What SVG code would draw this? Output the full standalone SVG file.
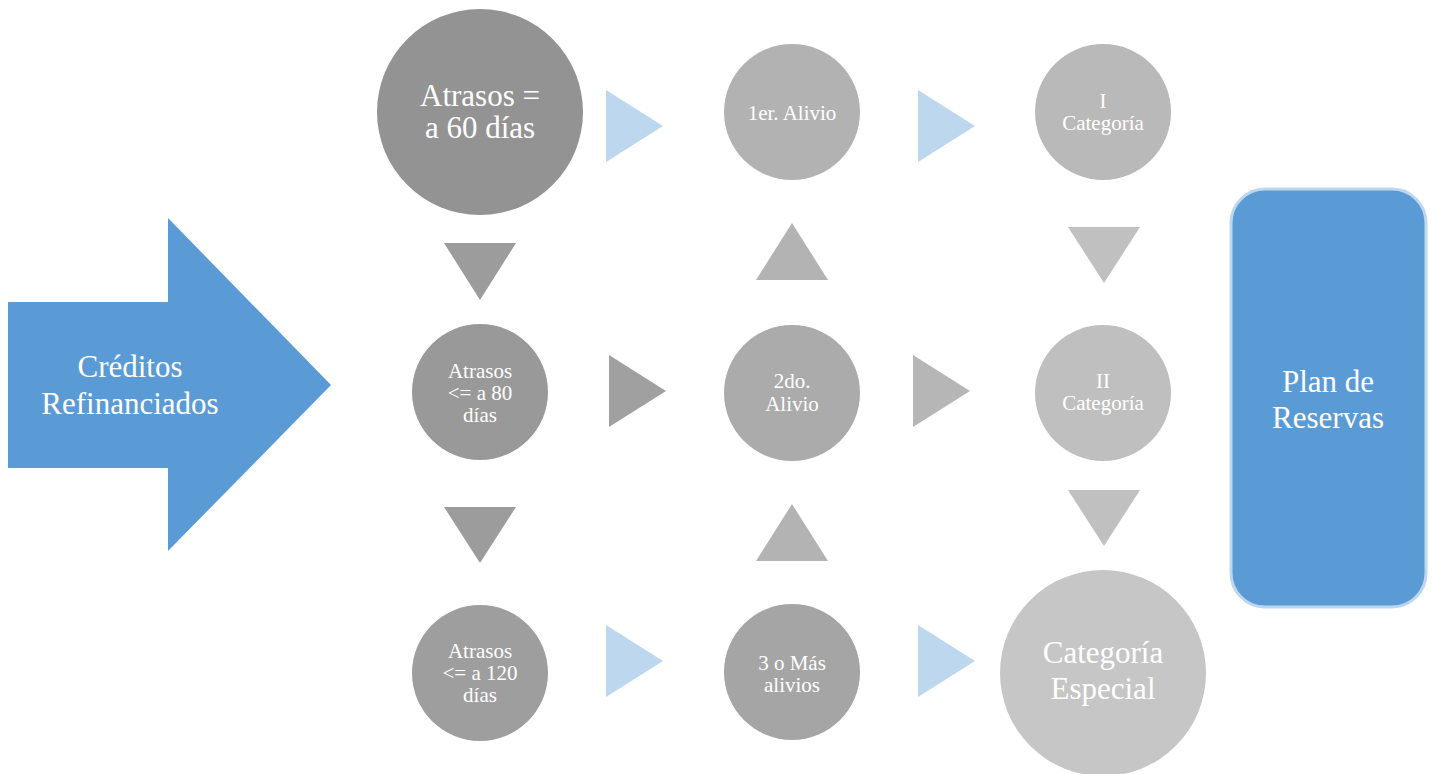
<svg xmlns="http://www.w3.org/2000/svg" width="1434" height="774" viewBox="0 0 1434 774" font-family="Liberation Serif, DejaVu Serif, serif">
<style>
text{fill:#ffffff;text-anchor:middle}
.big{font-size:31px}
.sm{font-size:21px}
.lb{fill:#bdd7ee}
</style>
<rect width="1434" height="774" fill="#ffffff"/>
<g id="creditos">
<polygon points="8,302 168,302 168,218 331,385 168,551 168,468 8,468" fill="#5b9bd5"/>
<text class="big" x="130" y="377">Créditos</text>
<text class="big" x="130" y="414">Refinanciados</text>
</g>
<g id="plan">
<rect x="1231" y="189" width="195" height="418" rx="34" fill="#5b9bd5" stroke="#bdd7ee" stroke-width="3"/>
<text class="big" x="1328" y="392">Plan de</text>
<text class="big" x="1328" y="428">Reservas</text>
</g>
<g id="n60">
<circle cx="480" cy="112" r="103" fill="#939393"/>
<text class="big" x="480" y="106">Atrasos =</text>
<text class="big" x="480" y="138">a 60 días</text>
</g>
<g id="n80">
<circle cx="480" cy="392" r="68" fill="#999999"/>
<text class="sm" x="480" y="378">Atrasos</text>
<text class="sm" x="480" y="400">&lt;= a 80</text>
<text class="sm" x="480" y="422">días</text>
</g>
<g id="n120">
<circle cx="480" cy="673" r="68" fill="#9e9e9e"/>
<text class="sm" x="480" y="658">Atrasos</text>
<text class="sm" x="480" y="680">&lt;= a 120</text>
<text class="sm" x="480" y="702">días</text>
</g>
<g id="alivio1">
<circle cx="792" cy="112" r="68" fill="#b2b2b2"/>
<text class="sm" x="792" y="120">1er. Alivio</text>
</g>
<g id="alivio2">
<circle cx="792" cy="393" r="68" fill="#ababab"/>
<text class="sm" x="792" y="388">2do.</text>
<text class="sm" x="792" y="411">Alivio</text>
</g>
<g id="alivio3">
<circle cx="792" cy="672" r="68" fill="#a5a5a5"/>
<text class="sm" x="792" y="670">3 o Más</text>
<text class="sm" x="792" y="692">alivios</text>
</g>
<g id="cat1">
<circle cx="1103" cy="112" r="68" fill="#b9b9b9"/>
<text class="sm" x="1103" y="108">I</text>
<text class="sm" x="1103" y="130">Categoría</text>
</g>
<g id="cat2">
<circle cx="1103" cy="393" r="68" fill="#bfbfbf"/>
<text class="sm" x="1103" y="388">II</text>
<text class="sm" x="1103" y="410">Categoría</text>
</g>
<g id="catesp">
<circle cx="1103" cy="673" r="103" fill="#c6c6c6"/>
<text class="big" x="1103" y="663">Categoría</text>
<text class="big" x="1103" y="699">Especial</text>
</g>
<g id="connectors">
<polygon class="lb" points="606,90 663,126 606,162"/>
<polygon class="lb" points="918,90 975,126 918,162"/>
<polygon points="609,355 666,391 609,427" fill="#a0a0a0"/>
<polygon points="913,355 970,391 913,427" fill="#b6b6b6"/>
<polygon class="lb" points="606,625 663,661 606,697"/>
<polygon class="lb" points="918,625 975,661 918,697"/>
<polygon points="444,243 516,243 480,300" fill="#9c9c9c"/>
<polygon points="444,507 516,507 480,563" fill="#9c9c9c"/>
<polygon points="792,223 828,280 756,280" fill="#b3b3b3"/>
<polygon points="792,504 828,561 756,561" fill="#b3b3b3"/>
<polygon points="1068,227 1140,227 1104,283" fill="#c0c0c0"/>
<polygon points="1068,490 1140,490 1104,546" fill="#c0c0c0"/>
</g>
</svg>
